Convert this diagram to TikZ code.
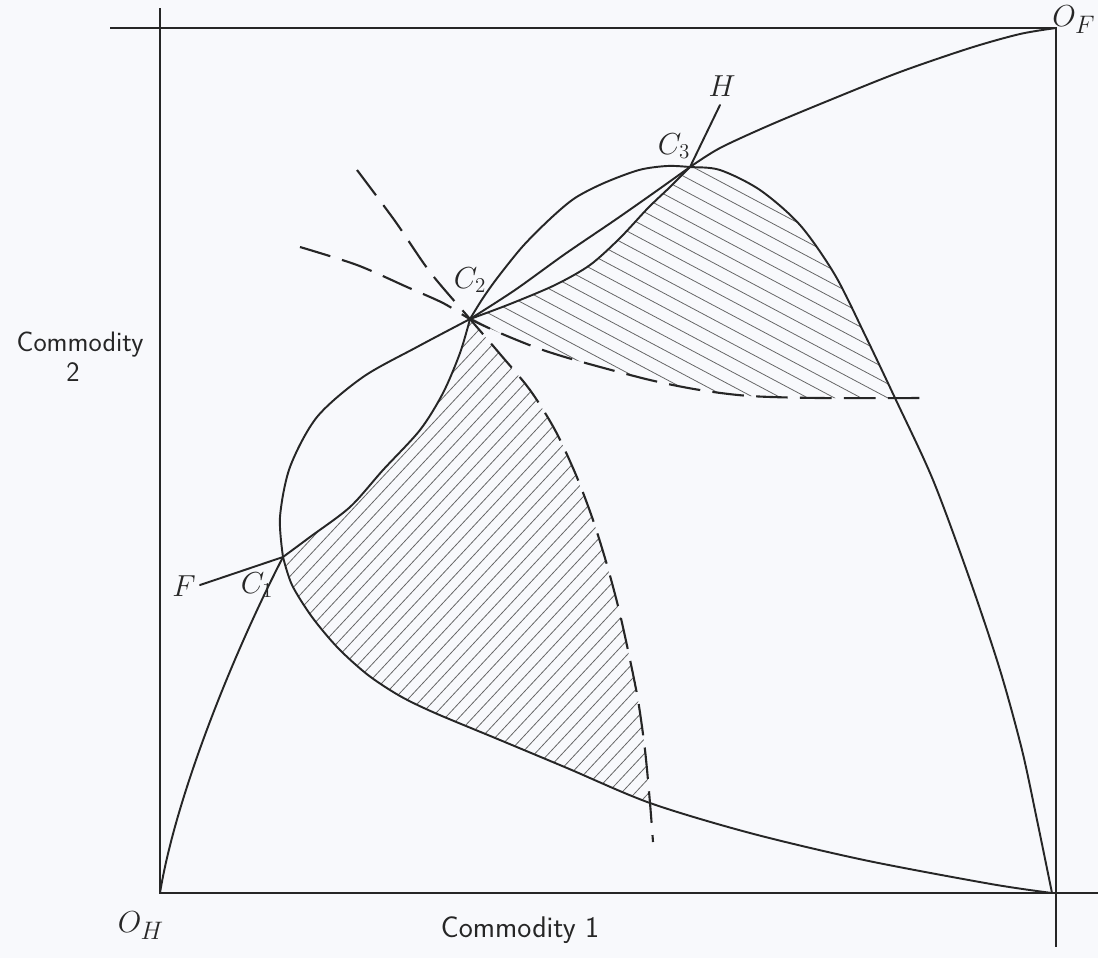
\documentclass[tikz,border=0pt]{standalone}
\usepackage{amsmath}
\begin{document}
\begin{tikzpicture}[x=0.02cm,y=-0.02cm,
  axis/.style={line width=1.1pt, black!85},
  curve/.style={line width=1.1pt, black!85, line join=round, line cap=round},
  dashcurve/.style={line width=1.2pt, black!85, dash pattern=on 18pt off 7pt},
  hatch/.style={line width=0.45pt, black!60},
  lab/.style={font=\fontsize{17}{20}\selectfont\sffamily, inner sep=0pt, text=black!85},
  ptlab/.style={font=\fontsize{17}{20}\selectfont, inner sep=0pt, text=black!85},
  olab/.style={font=\fontsize{19}{23}\selectfont, inner sep=0pt, text=black!85}]
\definecolor{paper}{RGB}{248,249,252}
\fill[paper] (0,0) rectangle (1098,958);
\useasboundingbox (0,0) rectangle (1098,958);

% key points
\coordinate (OH) at (160,893);
\coordinate (OF) at (1056,28);
\coordinate (K)  at (1052,893);
\coordinate (C1) at (283,557);
\coordinate (C2) at (470,319);
\coordinate (C3) at (690,167);
\coordinate (Htop) at (720,105);
\coordinate (Fend) at (200,585);
\coordinate (D1s) at (357,170);
\coordinate (D1e) at (653,842);
\coordinate (D1m) at (650,803);
\coordinate (D2s) at (300,247);
\coordinate (D2e) at (925,398);
\coordinate (D2m) at (895,398);

% box
\draw[axis] (160,8) -- (160,893) -- (1098,893);
\draw[axis] (110,28) -- (1056,28) -- (1056,947);

% lower hatched region
\begin{scope}
\clip plot[smooth] coordinates {(C1) (310,537) (350,507) (383,470) (420,430) (443,393) (460,353) (C2)}
  -- plot[smooth] coordinates {(C2) (500,354) (530,390) (555,430) (576,475) (593,520) (607,565) (619,610) (629,655) (638,700) (645,750) (D1m)}
  -- plot[smooth] coordinates {(D1m) (567,768) (500,740) (435,713) (400,696) (368,675) (338,648) (312,617) (292,585) (C1)}
  -- cycle;
\foreach \c in {545,555,...,1045}
  \draw[hatch] (240,{(\c-0.731*240)/0.682}) -- (720,{(\c-0.731*720)/0.682});
\end{scope}

% upper hatched region
\begin{scope}
\clip plot[smooth] coordinates {(C2) (510,304) (555,285) (590,265) (620,238) (648,208) (670,187) (C3)}
  -- plot[smooth] coordinates {(C3) (720,170) (760,190) (800,225) (835,275) (865,335) (D2m)}
  -- plot[smooth] coordinates {(D2m) (820,398) (750,396) (700,390) (650,380) (582,362) (540,349) (500,333) (C2)}
  -- cycle;
\foreach \d in {-190,-177.5,...,80}
  \draw[hatch] (440,{(\d+0.469*440)/0.883}) -- (960,{(\d+0.469*960)/0.883});
\end{scope}

% H's curve from O_H
\draw[curve] (OH) .. controls (175,800) and (230,660) .. (C1);
% F line
\draw[curve] (Fend) -- (C1);
% line C1 - C2
\draw[curve] plot[smooth] coordinates {(C1) (310,537) (350,507) (383,470) (420,430) (443,393) (460,353) (C2)};
% lower indifference curve: corner -> C1 -> bulge -> C2
\draw[curve] plot[smooth] coordinates {(K) (991,884) (864,860) (750,833) (D1m) (567,768) (500,740) (435,713) (400,696) (368,675) (338,648) (312,617) (292,585) (C1)};
\draw[curve] plot[smooth] coordinates {(C1) (280,517) (290,467) (317,417) (363,377) (417,347) (C2)};
% upper indifference curve: C2 -> C3 -> corner
\draw[curve] plot[smooth] coordinates {(C2) (483,298) (498,277) (523,246) (551,218) (575,198) (604,183) (639,170) (667,166) (C3) (720,170) (760,190) (800,225) (835,275) (865,335) (D2m) (933,480) (970,580) (1000,670) (1022,750) (1037,820) (K)};
% lens curves C2 - C3
\draw[curve] plot[smooth] coordinates {(C2) (515,290) (565,254) (615,220) (655,192) (C3)};
\draw[curve] plot[smooth] coordinates {(C2) (510,304) (555,285) (590,265) (620,238) (648,208) (670,187) (C3)};
% C3 to O_F and H
\draw[curve] plot[smooth] coordinates {(C3) (720,148) (770,125) (830,100) (900,72) (970,48) (1020,34) (OF)};
\draw[curve] (C3) -- (Htop);

% dashed curves
\draw[dashcurve] plot[smooth] coordinates {(D1s) (395,221) (430,272) (C2) (500,354) (530,390) (555,430) (576,475) (593,520) (607,565) (619,610) (629,655) (638,700) (645,750) (D1m) (D1e)};
\draw[dashcurve] plot[smooth] coordinates {(D2s) (357,265) (407,287) (443,303) (C2) (500,333) (540,349) (582,362) (650,380) (700,390) (750,396) (820,398) (D2e)};

% labels
\node[olab] (lOH) at (141,926) {$O_H$};
\node[olab] (lOF) at (1074,20) {$O_F$};
\node[ptlab] (lC1) at (257,585) {$C_1$};
\node[ptlab] (lC2) at (470,280) {$C_2$};
\node[ptlab] (lC3) at (674,146) {$C_3$};
\node[ptlab] (lF) at (184,586) {$F$};
\node[ptlab] (lH) at (722,86) {$H$};
\node[lab] (lx) at (520,930) {Commodity 1};
\node[lab, font=\fontsize{16}{19}\selectfont\sffamily] (ly1) at (80,345) {Commodity};
\node[lab, font=\fontsize{16}{19}\selectfont\sffamily] (ly2) at (73,372) {2};
\end{tikzpicture}
\end{document}
